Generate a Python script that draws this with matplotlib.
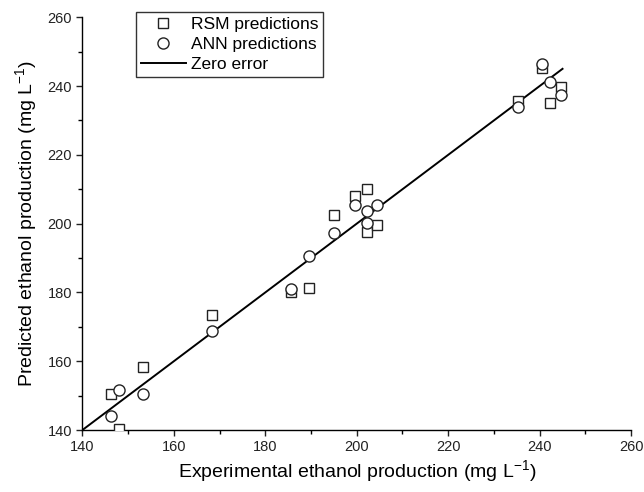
import matplotlib.pyplot as plt
from matplotlib.ticker import MultipleLocator

plt.rcParams['font.family'] = ['Liberation Sans', 'DejaVu Sans']

experimental = [146.3, 148.0, 153.2, 168.4, 185.7, 189.5, 195.1, 199.6,
                202.3, 202.3, 204.4, 235.2, 240.4, 242.2, 244.7]
rsm_pred = [150.5, 140.2, 158.3, 173.3, 180.2, 181.2, 202.6, 207.9,
            210.2, 197.7, 199.7, 235.5, 245.2, 235.0, 239.6]
ann_pred = [144.0, 151.6, 150.5, 168.8, 180.9, 190.5, 197.3, 205.4,
            203.8, 200.3, 205.4, 233.8, 246.5, 241.1, 237.5]
zero_line = [140, 245]

fig = plt.figure(figsize=(6.44, 4.92), dpi=100)
ax = fig.add_axes([0.128, 0.126, 0.852, 0.839])

ax.plot(experimental, rsm_pred, linestyle='none', marker='s', markersize=7,
        markerfacecolor='white', markeredgecolor='#222222', markeredgewidth=1.0,
        label='RSM predictions', zorder=3)
ax.plot(experimental, ann_pred, linestyle='none', marker='o', markersize=8,
        markerfacecolor='white', markeredgecolor='#222222', markeredgewidth=1.0,
        label='ANN predictions', zorder=4)
ax.plot(zero_line, zero_line, color='black', linewidth=1.4, label='Zero error', zorder=2)

ax.set_xlim(140, 260)
ax.set_ylim(140, 260)
ax.xaxis.set_major_locator(MultipleLocator(20))
ax.xaxis.set_minor_locator(MultipleLocator(10))
ax.yaxis.set_major_locator(MultipleLocator(20))
ax.yaxis.set_minor_locator(MultipleLocator(10))

for s in ['top', 'right']:
    ax.spines[s].set_visible(False)
for s in ['left', 'bottom']:
    ax.spines[s].set_linewidth(1.0)
ax.tick_params(which='major', direction='out', length=4.5, width=1.0, labelsize=10.5,
               colors='#222222', pad=3)
ax.tick_params(which='minor', direction='out', length=3, width=1.0)

ax.set_xlabel('Experimental ethanol production (mg L$^{\\mathregular{-1}}$)', fontsize=14, labelpad=3)
ax.set_ylabel('Predicted ethanol production (mg L$^{\\mathregular{-1}}$)', fontsize=14, labelpad=5)

leg = ax.legend(loc='upper left', bbox_to_anchor=(0.098, 1.012), borderaxespad=0,
                frameon=True, fancybox=False, edgecolor='black', fontsize=12.5,
                handlelength=2.6, handletextpad=0.3, labelspacing=0.3,
                borderpad=0.25)
leg.get_frame().set_linewidth(1.0)

fig.savefig('out.png', dpi=100)
